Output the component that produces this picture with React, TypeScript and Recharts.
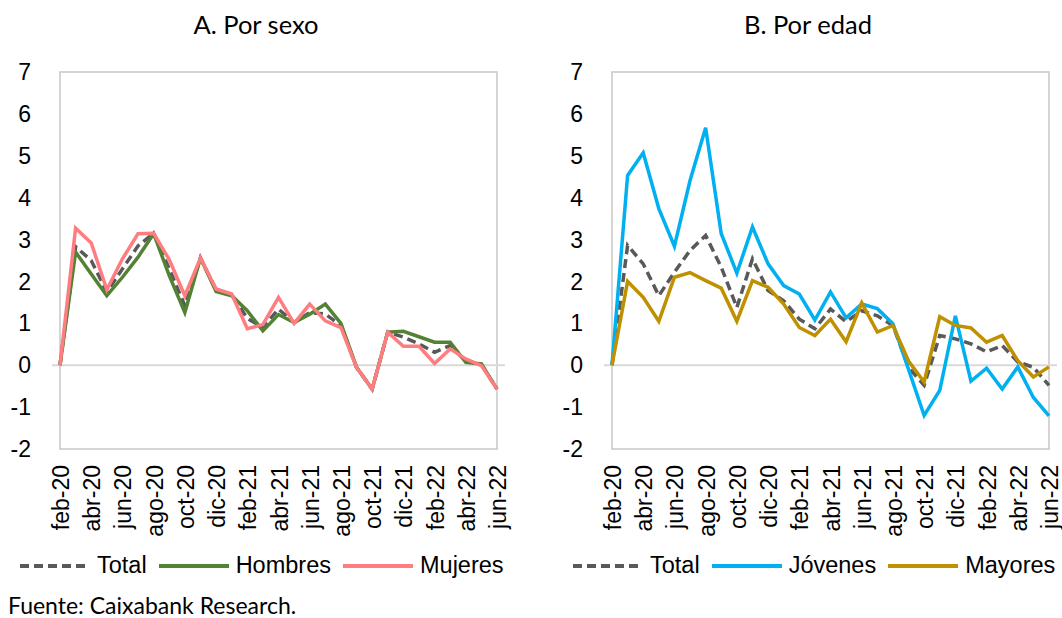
import { LineChart, Line, XAxis, YAxis, ReferenceLine, ReferenceArea } from 'recharts';

const months = [
  'feb-20', 'mar-20', 'abr-20', 'may-20', 'jun-20', 'jul-20', 'ago-20', 'sep-20', 'oct-20', 'nov-20',
  'dic-20', 'ene-21', 'feb-21', 'mar-21', 'abr-21', 'may-21', 'jun-21', 'jul-21', 'ago-21', 'sep-21',
  'oct-21', 'nov-21', 'dic-21', 'ene-22', 'feb-22', 'mar-22', 'abr-22', 'may-22', 'jun-22',
];

// A. Por sexo
const totalSexo = [0, 2.83, 2.5, 1.75, 2.3, 2.85, 3.15, 2.3, 1.42, 2.56, 1.8, 1.68, 1.12, 0.9, 1.34, 1.02, 1.26, 1.22, 0.95, -0.05, -0.57, 0.79, 0.67, 0.51, 0.31, 0.47, 0.1, 0.02, -0.57];
const hombres = [0, 2.7, 2.18, 1.66, 2.1, 2.58, 3.14, 2.14, 1.26, 2.56, 1.76, 1.66, 1.3, 0.82, 1.21, 1.02, 1.22, 1.46, 1.0, -0.05, -0.57, 0.79, 0.81, 0.68, 0.55, 0.55, 0.07, 0.03, -0.57];
const mujeres = [0, 3.27, 2.92, 1.8, 2.54, 3.14, 3.15, 2.52, 1.66, 2.56, 1.82, 1.7, 0.87, 0.97, 1.62, 1.0, 1.46, 1.06, 0.9, -0.05, -0.57, 0.79, 0.45, 0.45, 0.04, 0.39, 0.15, -0.01, -0.57];

// B. Por edad
const totalEdad = [0, 2.86, 2.42, 1.66, 2.22, 2.74, 3.1, 2.34, 1.38, 2.54, 1.78, 1.54, 1.1, 0.87, 1.34, 1.04, 1.3, 1.18, 0.95, -0.05, -0.48, 0.71, 0.63, 0.51, 0.32, 0.47, 0.08, -0.05, -0.48];
const jovenes = [0, 4.53, 5.07, 3.74, 2.84, 4.41, 5.67, 3.14, 2.2, 3.3, 2.42, 1.9, 1.7, 1.08, 1.75, 1.13, 1.46, 1.35, 0.99, -0.1, -1.2, -0.6, 1.18, -0.38, -0.07, -0.57, -0.04, -0.77, -1.21];
const mayores = [0, 2.0, 1.62, 1.05, 2.1, 2.21, 2.02, 1.84, 1.05, 2.02, 1.86, 1.46, 0.9, 0.71, 1.1, 0.56, 1.49, 0.79, 0.95, 0.1, -0.4, 1.16, 0.95, 0.89, 0.55, 0.71, 0.11, -0.28, -0.04];

const yTicks = [-2, -1, 0, 1, 2, 3, 4, 5, 6, 7];

const sexoData = months.map((m, i) => ({ m, total: totalSexo[i], hombres: hombres[i], mujeres: mujeres[i] }));
const edadData = months.map((m, i) => ({ m, total: totalEdad[i], jovenes: jovenes[i], mayores: mayores[i] }));

const ARIAL = '"Liberation Sans", Arial, sans-serif';
const CALIBRI = 'Lato, "Open Sans", sans-serif';
const DASH = '9 5';

const MonthTick = (props: any) => {
  const { x, y, payload } = props;
  return (
    <text
      transform={`translate(${x + 1},${y + 16}) rotate(-90)`}
      textAnchor="end"
      dominantBaseline="central"
      fontSize={23}
      fontFamily={ARIAL}
      fill="#000"
    >
      {payload.value}
    </text>
  );
};

type Series = { key: string; name: string; color: string; dashed?: boolean };

function Panel({ data, series }: { data: any[]; series: Series[] }) {
  return (
    <LineChart width={530} height={540} data={data} margin={{ top: 72, right: 25, left: 0, bottom: 0 }}>
      <ReferenceArea y1={-2} y2={7} fill="none" stroke="#c8c8c8" strokeWidth={1.5} />
      <ReferenceLine y={0} stroke="#d9d9d9" strokeWidth={2} />
      <XAxis
        dataKey="m"
        interval={1}
        tickLine={false}
        axisLine={false}
        tickSize={0}
        tickMargin={0}
        height={91}
        padding={{ left: 8, right: 8 }}
        tick={<MonthTick />}
      />
      <YAxis
        type="number"
        domain={[-2, 7]}
        ticks={yTicks}
        width={52}
        axisLine={false}
        tickLine={false}
        tickSize={6}
        tickMargin={15}
        tick={{ fontSize: 23, fill: '#000', fontFamily: ARIAL }}
      />
      {series.map((s) => (
        <Line
          key={s.key}
          type="linear"
          dataKey={s.key}
          stroke={s.color}
          strokeWidth={3.5}
          strokeDasharray={s.dashed ? DASH : undefined}
          dot={false}
          isAnimationActive={false}
        />
      ))}
    </LineChart>
  );
}

function Legend({ series }: { series: Series[] }) {
  return (
    <div style={{ display: 'flex', alignItems: 'center', fontFamily: ARIAL, fontSize: 23.5, color: '#000' }}>
      {series.map((s) => (
        <div key={s.key} style={{ display: 'flex', alignItems: 'center', marginRight: 12 }}>
          <svg width={70} height={8} style={{ marginRight: 7 }}>
            <line
              x1={0}
              y1={4}
              x2={70}
              y2={4}
              stroke={s.color}
              strokeWidth={4}
              strokeDasharray={s.dashed ? DASH : undefined}
            />
          </svg>
          <span>{s.name}</span>
        </div>
      ))}
    </div>
  );
}

const sexoSeries: Series[] = [
  { key: 'total', name: 'Total', color: '#595959', dashed: true },
  { key: 'hombres', name: 'Hombres', color: '#548235' },
  { key: 'mujeres', name: 'Mujeres', color: '#ff7c80' },
];

const edadSeries: Series[] = [
  { key: 'total', name: 'Total', color: '#595959', dashed: true },
  { key: 'jovenes', name: 'Jóvenes', color: '#00b0f0' },
  { key: 'mayores', name: 'Mayores', color: '#bf9000' },
];

const titleStyle: React.CSSProperties = {
  position: 'absolute',
  top: 9,
  width: 512,
  textAlign: 'center',
  fontFamily: CALIBRI,
  fontSize: 25.5,
  color: '#000',
};

export default function App() {
  return (
    <div style={{ position: 'absolute', left: 0, top: 0, width: 1062, height: 618, background: '#fff', overflow: 'hidden' }}>
      <div style={{ ...titleStyle, left: 0 }}>A. Por sexo</div>
      <div style={{ ...titleStyle, left: 552 }}>B. Por edad</div>
      <div style={{ position: 'absolute', left: 0, top: 0 }}>
        <Panel data={sexoData} series={sexoSeries} />
      </div>
      <div style={{ position: 'absolute', left: 552, top: 0 }}>
        <Panel data={edadData} series={edadSeries} />
      </div>
      <div style={{ position: 'absolute', left: 20, top: 552 }}>
        <Legend series={sexoSeries} />
      </div>
      <div style={{ position: 'absolute', left: 573, top: 552 }}>
        <Legend series={edadSeries} />
      </div>
      <div style={{ position: 'absolute', left: 8, top: 591, fontFamily: CALIBRI, fontSize: 23, color: '#000' }}>
        Fuente: Caixabank Research.
      </div>
    </div>
  );
}
